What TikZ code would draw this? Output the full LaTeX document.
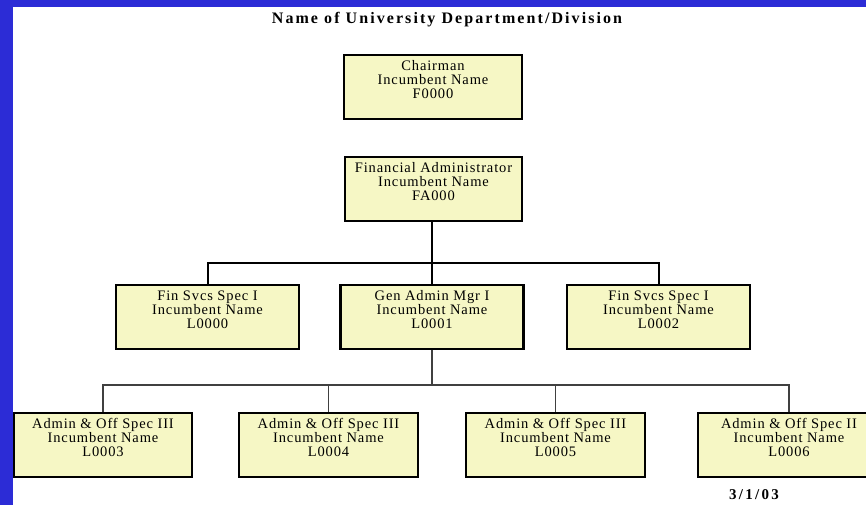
\documentclass[tikz,border=0pt]{standalone}
\usepackage{fontspec}
\setmainfont{Liberation Serif}
\newfontfamily\boxfont[LetterSpace=6]{Liberation Serif}
\newfontfamily\headfont[LetterSpace=13]{Liberation Serif}
\newfontfamily\datefont[LetterSpace=15]{Liberation Serif}
\definecolor{bluebar}{RGB}{44,44,214}
\definecolor{boxfill}{RGB}{246,247,197}
\tikzset{
  orgbox/.style={draw=black, line width=2.2pt, fill=boxfill, anchor=north,
    minimum width=180pt, inner xsep=0pt, inner ysep=0pt,
    text height=15pt, text depth=49pt,
    font=\boxfont\fontsize{14.5}{14}\selectfont},
  upline/.style={draw=black, line width=2pt},
  lowline/.style={draw=black!75, line width=1.2pt},
}
\newcommand{\boxtext}[3]{\begin{tabular}[t]{@{}c@{}}#1\\#2\\#3\end{tabular}}
\begin{document}
\begin{tikzpicture}[x=1pt,y=-1pt]
\useasboundingbox (0,0) rectangle (866,505);
\clip (0,0) rectangle (866,505);
\fill[white] (0,0) rectangle (866,505);
\fill[bluebar] (0,0) rectangle (866,7);
\fill[bluebar] (0,0) rectangle (13,505);

\node[anchor=base, font=\headfont\bfseries\fontsize{16}{18}\selectfont] (title) at (447,24) {Name of University Department/Division};

\node[orgbox, minimum width=178pt] (ch) at (433,54) {\boxtext{Chairman}{Incumbent Name}{F0000}};
\node[orgbox, minimum width=177pt] (fa) at (433.5,156) {\boxtext{Financial Administrator}{Incumbent Name}{FA000}};

\node[orgbox, minimum width=183pt] (l0) at (207.5,284) {\boxtext{Fin Svcs Spec I}{Incumbent Name}{L0000}};
\node[orgbox, minimum width=183pt] (l1) at (432,284) {\boxtext{Gen Admin Mgr I}{Incumbent Name}{L0001}};
\node[orgbox, minimum width=183pt] (l2) at (658.5,284) {\boxtext{Fin Svcs Spec I}{Incumbent Name}{L0002}};

\node[orgbox, minimum width=178pt] (l3) at (103,412) {\boxtext{Admin \& Off Spec III}{Incumbent Name}{L0003}};
\node[orgbox, minimum width=179pt] (l4) at (328.5,412) {\boxtext{Admin \& Off Spec III}{Incumbent Name}{L0004}};
\node[orgbox, minimum width=179pt] (l5) at (555.5,412) {\boxtext{Admin \& Off Spec III}{Incumbent Name}{L0005}};
\node[orgbox, minimum width=182pt] (l6) at (789,412) {\boxtext{Admin \& Off Spec II}{Incumbent Name}{L0006}};

\coordinate (bus1) at (432,263);
\coordinate (bus2) at (432,385);

\draw[upline] (fa.south -| bus1) -- (bus1);
\draw[upline] (bus1) -| (l0.north);
\draw[upline] (bus1) -| (l2.north);
\draw[upline] (bus1) -- (l1.north);

\draw[lowline] (l1.south) -- (bus2);
\draw[lowline] (bus2) -| (l3.north);
\draw[lowline] (bus2) -| (l4.north);
\draw[lowline] (bus2) -| (l5.north);
\draw[lowline] (bus2) -| (l6.north);

\node[anchor=base, font=\datefont\bfseries\fontsize{15}{17}\selectfont] (date) at (754,499) {3/1/03};
\end{tikzpicture}
\end{document}
